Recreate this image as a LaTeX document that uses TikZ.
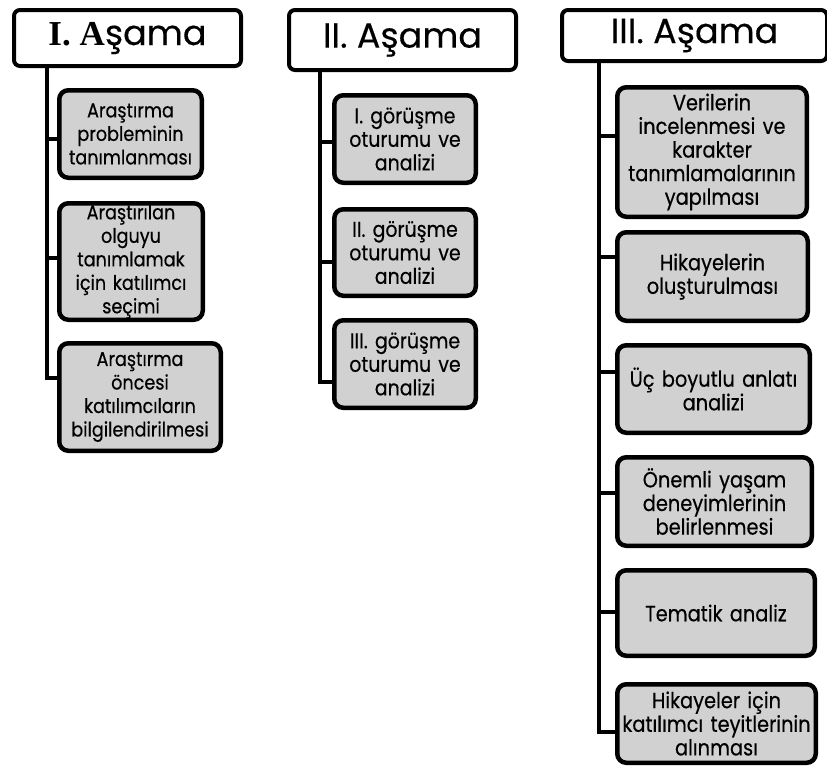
\documentclass[tikz,border=0pt]{standalone}
\usepackage{fontspec}
\setmainfont[FakeStretch=0.88,FakeBold=0.4]{Poppins}
\newfontfamily\hdrfont[FakeBold=0.3]{Poppins}
\newfontfamily\serifb{Liberation Serif}
\definecolor{boxgray}{RGB}{209,209,209}
\begin{document}
\begin{tikzpicture}[x=1pt,y=-1pt,
  hdr/.style={draw=black,line width=4pt,rounded corners=6pt,fill=white,inner sep=0pt,align=center,font=\hdrfont\fontsize{35}{40}\selectfont},
  itembox/.style={draw=black,line width=4.5pt,rounded corners=9pt,fill=boxgray,inner sep=0pt,align=center,font=\fontsize{20}{23.5}\selectfont},
  midbox/.style={itembox,font=\fontsize{21.5}{23.5}\selectfont},
  bigbox/.style={itembox,font=\fontsize{22}{23.6}\selectfont},
  conn/.style={draw=black,line width=4pt}]
\useasboundingbox (0,0) rectangle (827,769);
\clip (0,0) rectangle (827,769);
% headers
\node[hdr,minimum width=227pt,minimum height=56pt] (h1) at (127.5,38) {{\serifb\bfseries I. A}şama};
\node[hdr,minimum width=227pt,minimum height=60pt] (h2) at (402.5,40) {II. Aşama};
\node[hdr,minimum width=265pt,minimum height=51pt] (h3) at (694.5,35.5) {III. Aşama};
% column 1
\node[itembox,minimum width=142.5pt,minimum height=87.5pt,text width=138pt] (b11) at (130.5,134) {Araştırma\\probleminin\\tanımlanması};
\node[itembox,minimum width=143.5pt,minimum height=116.5pt,text width=138pt] (b12) at (131,261.5) {Araştırılan\\olguyu\\tanımlamak\\için katılımcı\\seçimi};
\node[itembox,minimum width=161.5pt,minimum height=107.5pt,text width=156pt] (b13) at (140,397) {Araştırma\\öncesi\\katılımcıların\\bilgilendirilmesi};
% column 2
\node[midbox,minimum width=141.5pt,minimum height=87.5pt,text width=136pt] (b21) at (405,139) {I. görüşme\\oturumu ve\\analizi};
\node[midbox,minimum width=141.5pt,minimum height=86.5pt,text width=136pt] (b22) at (405,252.5) {II. görüşme\\oturumu ve\\analizi};
\node[midbox,minimum width=141.5pt,minimum height=87.5pt,text width=136pt] (b23) at (405,364) {III. görüşme\\oturumu ve\\analizi};
% column 3
\node[bigbox,minimum width=189.5pt,minimum height=129.5pt,text width=184pt] (b31) at (712,152) {Verilerin\\incelenmesi ve\\karakter\\tanımlamalarının\\yapılması};
\node[bigbox,minimum width=190.5pt,minimum height=88.5pt,text width=184pt] (b32) at (712.5,276.5) {Hikayelerin\\oluşturulması};
\node[bigbox,minimum width=192.5pt,minimum height=87.5pt,text width=186pt] (b33) at (713.5,389) {Üç boyutlu anlatı\\analizi};
\node[bigbox,minimum width=194.5pt,minimum height=88.5pt,text width=188pt] (b34) at (714.5,501.5) {Önemli yaşam\\deneyimlerinin\\belirlenmesi};
\node[bigbox,minimum width=197.5pt,minimum height=85.5pt,text width=190pt] (b35) at (716,613) {Tematik analiz};
\node[bigbox,minimum width=198.5pt,minimum height=78.5pt,text width=192pt] (b36) at (716.5,723.5) {Hikayeler için\\katılımcı teyitlerinin\\alınması};
% connector guides
\coordinate (v1) at (47,0);
\coordinate (v2) at (320,0);
\coordinate (v3) at (599,0);
\coordinate (t11) at (0,139);
\coordinate (t12) at (0,258);
\coordinate (t13) at (0,378);
\coordinate (t21) at (0,142);
\coordinate (t22) at (0,262);
\coordinate (t23) at (0,382);
\coordinate (t31) at (0,136);
\coordinate (t32) at (0,257);
\coordinate (t33) at (0,372);
\coordinate (t34) at (0,493);
\coordinate (t35) at (0,612);
\coordinate (t36) at (0,732);
% column 1 connectors
\draw[conn] (h1.south -| v1) |- (b13.west |- t13);
\draw[conn] (v1 |- t11) -- (b11.west |- t11);
\draw[conn] (v1 |- t12) -- (b12.west |- t12);
% column 2 connectors
\draw[conn] (h2.south -| v2) |- (b23.west |- t23);
\draw[conn] (v2 |- t21) -- (b21.west |- t21);
\draw[conn] (v2 |- t22) -- (b22.west |- t22);
% column 3 connectors
\draw[conn] (h3.south -| v3) |- (b36.west |- t36);
\draw[conn] (v3 |- t31) -- (b31.west |- t31);
\draw[conn] (v3 |- t32) -- (b32.west |- t32);
\draw[conn] (v3 |- t33) -- (b33.west |- t33);
\draw[conn] (v3 |- t34) -- (b34.west |- t34);
\draw[conn] (v3 |- t35) -- (b35.west |- t35);
\end{tikzpicture}
\end{document}
